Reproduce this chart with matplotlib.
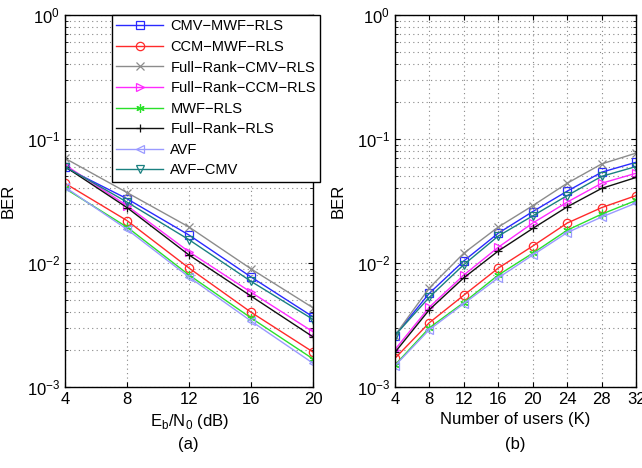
import matplotlib.pyplot as plt
from matplotlib.ticker import LogLocator, NullFormatter

plt.rcParams['font.family'] = ['Liberation Sans', 'DejaVu Sans']

snr = [4, 8, 12, 16, 20]
users = [4, 8, 12, 16, 20, 24, 28, 32]

labels = ["CMV\u2212MWF\u2212RLS", "CCM\u2212MWF\u2212RLS", "Full\u2212Rank\u2212CMV\u2212RLS",
          "Full\u2212Rank\u2212CCM\u2212RLS", "MWF\u2212RLS", "Full\u2212Rank\u2212RLS", "AVF", "AVF\u2212CMV"]
colors = ["#2a2aff", "#ff2a2a", "#8c8c8c", "#ff2aff", "#2ae02a", "#111111", "#9a9aff", "#1a8080"]
markers = ["s", "o", "x", ">", (6, 2, 0), "+", "<", "v"]

# BER vs Eb/N0
ber_snr = [
    [0.059, 0.033, 0.0168, 0.0077, 0.00367],   # CMV-MWF-RLS
    [0.044, 0.022, 0.0091, 0.0040, 0.00191],   # CCM-MWF-RLS
    [0.070, 0.037, 0.0195, 0.00895, 0.00434],  # Full-Rank-CMV-RLS
    [0.062, 0.029, 0.0123, 0.0058, 0.00278],   # Full-Rank-CCM-RLS
    [0.040, 0.0195, 0.0080, 0.0036, 0.00168],  # MWF-RLS
    [0.060, 0.028, 0.0116, 0.0054, 0.00253],   # Full-Rank-RLS
    [0.041, 0.0187, 0.0077, 0.0034, 0.00155],  # AVF
    [0.060, 0.031, 0.0154, 0.0071, 0.0035],    # AVF-CMV
]

# BER vs number of users
ber_users = [
    [0.0026, 0.0057, 0.0104, 0.0174, 0.026, 0.038, 0.054, 0.065],
    [0.0017, 0.0033, 0.0055, 0.0091, 0.0137, 0.021, 0.028, 0.035],
    [0.0026, 0.0063, 0.0120, 0.0195, 0.029, 0.044, 0.063, 0.077],
    [0.0020, 0.0044, 0.0080, 0.0134, 0.021, 0.031, 0.044, 0.053],
    [0.0015, 0.0030, 0.0048, 0.0080, 0.0120, 0.0184, 0.0248, 0.032],
    [0.0019, 0.0042, 0.0076, 0.0125, 0.019, 0.0284, 0.040, 0.049],
    [0.00148, 0.0029, 0.0047, 0.0076, 0.0116, 0.0176, 0.0235, 0.0305],
    [0.0026, 0.0053, 0.0097, 0.0165, 0.024, 0.035, 0.050, 0.060],
]

fig = plt.figure(figsize=(6.42, 4.68), dpi=100)
ax1 = fig.add_axes([0.101, 0.173, 0.387, 0.795])
ax2 = fig.add_axes([0.615, 0.173, 0.376, 0.795])

for ax, x, data in [(ax1, snr, ber_snr), (ax2, users, ber_users)]:
    for i in range(len(labels)):
        ax.semilogy(x, data[i], color=colors[i], marker=markers[i], markersize=6,
                    markerfacecolor="none", markeredgewidth=0.9, linewidth=1.0,
                    label=labels[i])
    ax.set_ylim(1e-3, 1)
    ax.set_xlim(x[0], x[-1])
    ax.set_xticks(x)
    ax.yaxis.set_minor_locator(LogLocator(base=10, subs=range(2, 10)))
    ax.yaxis.set_minor_formatter(NullFormatter())
    ax.grid(True, which="major", linestyle=(0, (1, 3)), color="#888888", linewidth=0.8)
    ax.grid(True, which="minor", axis="y", linestyle=(0, (1, 3)), color="#888888", linewidth=0.8)
    ax.tick_params(which="both", direction="in", top=True, right=True, labelsize=12)
    ax.set_ylabel("BER", fontsize=12, labelpad=8)
    for s in ax.spines.values():
        s.set_linewidth(1.0)

ax1.set_xlabel("E$_\\mathregular{b}$/N$_\\mathregular{0}$ (dB)", fontsize=12)
ax2.set_xlabel("Number of users (K)", fontsize=12)
fig.text(0.294, 0.04, "(a)", ha="center", fontsize=12)
fig.text(0.803, 0.04, "(b)", ha="center", fontsize=12)

ax1.legend(loc="upper left", bbox_to_anchor=(112 / 642, 1 - 15 / 468),
           bbox_transform=fig.transFigure, fontsize=10.5, fancybox=False,
           framealpha=1, edgecolor="black", borderpad=0.3, labelspacing=0.45,
           handlelength=3.2, handletextpad=0.5, borderaxespad=0)

fig.savefig("out.png", dpi=100)
